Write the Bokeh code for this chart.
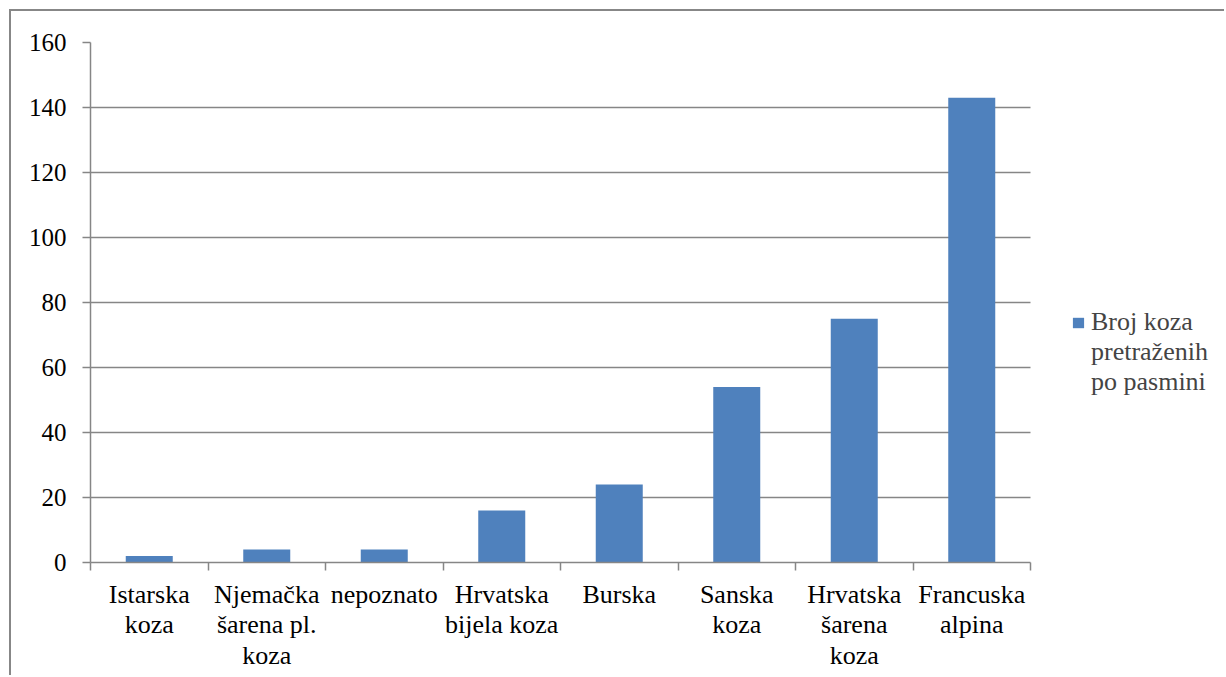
from bokeh.plotting import figure
from bokeh.models import (ColumnDataSource, FixedTicker, Range1d, Legend, LegendItem)
from bokeh.embed import file_html
from bokeh.resources import INLINE

categories = ["Istarska\nkoza", "Njemačka\nšarena pl.\nkoza", "nepoznato",
              "Hrvatska\nbijela koza", "Burska", "Sanska\nkoza",
              "Hrvatska\nšarena\nkoza", "Francuska\nalpina"]
values = [2, 4, 4, 16, 24, 54, 75, 143]
series_lines = ["Broj koza", "pretraženih", "po pasmini"]
y_ticks = [0, 20, 40, 60, 80, 100, 120, 140, 160]

FONT = "'Liberation Serif', 'Times New Roman', serif"
GRAY = "#868686"
BLUE = "#4F81BD"

n = len(categories)
xs = [i + 0.5 for i in range(n)]
src = ColumnDataSource(dict(x=xs, top=values))

# frame spans to the right edge of the canvas; axis/grid limited to the categories
cat_px = 117.5
x_end = (1226 - 90) / cat_px

p = figure(width=1215, height=666, output_backend="svg", toolbar_location=None,
           x_range=Range1d(0, x_end), y_range=Range1d(0, 160),
           min_border_left=79, min_border_right=0, min_border_top=31,
           min_border_bottom=115)
p.styles = {"margin-left": "9px", "margin-top": "9px",
            "border-left": "2px solid #878787", "border-top": "2px solid #878787"}
p.outline_line_color = None
p.background_fill_color = "white"
p.border_fill_color = "white"

r = p.vbar(x="x", top="top", width=0.4, source=src, fill_color=BLUE, line_color=None)
empty = ColumnDataSource(dict(x=[], top=[]))
r_blank = p.vbar(x="x", top="top", width=0.4, source=empty, fill_alpha=0, line_alpha=0)

# axes
p.xaxis.bounds = (0, n)
p.xaxis.ticker = FixedTicker(ticks=xs, minor_ticks=list(range(n + 1)))
p.xaxis.major_label_overrides = {x: c for x, c in zip(xs, categories)}
p.xaxis.major_tick_line_color = None
p.xaxis.major_tick_in = 0
p.xaxis.major_tick_out = 0
p.xaxis.minor_tick_in = 0
p.xaxis.minor_tick_out = 8
p.xaxis.minor_tick_line_color = GRAY
p.xaxis.minor_tick_line_width = 1.5
p.xaxis.axis_line_color = GRAY
p.xaxis.axis_line_width = 1.5
p.xaxis.major_label_text_font = FONT
p.xaxis.major_label_text_font_size = "26px"
p.xaxis.major_label_text_line_height = 1.06
p.xaxis.major_label_text_color = "black"
p.xaxis.major_label_standoff = 9

p.yaxis.ticker = FixedTicker(ticks=y_ticks, minor_ticks=[])
p.yaxis.major_tick_in = 0
p.yaxis.major_tick_out = 8
p.yaxis.major_tick_line_color = GRAY
p.yaxis.major_tick_line_width = 1.5
p.yaxis.axis_line_color = GRAY
p.yaxis.axis_line_width = 1.5
p.yaxis.major_label_text_font = FONT
p.yaxis.major_label_text_font_size = "25px"
p.yaxis.major_label_text_color = "black"
p.yaxis.major_label_standoff = 16

p.xgrid.grid_line_color = None
p.ygrid.ticker = FixedTicker(ticks=y_ticks)
p.ygrid.cross_bounds = (0, n)
p.ygrid.grid_line_color = GRAY
p.ygrid.grid_line_width = 1.5

items = [LegendItem(label=series_lines[0], renderers=[r])] + \
        [LegendItem(label=t, renderers=[r_blank]) for t in series_lines[1:]]
legend = Legend(items=items, location=(981, 165), border_line_color=None,
                background_fill_alpha=0,
                label_text_font=FONT, label_text_font_size="26px",
                glyph_width=14, glyph_height=13, label_standoff=6,
                label_height=29, spacing=0, padding=0, margin=0)
p.add_layout(legend, "center")

open("out.html", "w").write(file_html(p, INLINE))
